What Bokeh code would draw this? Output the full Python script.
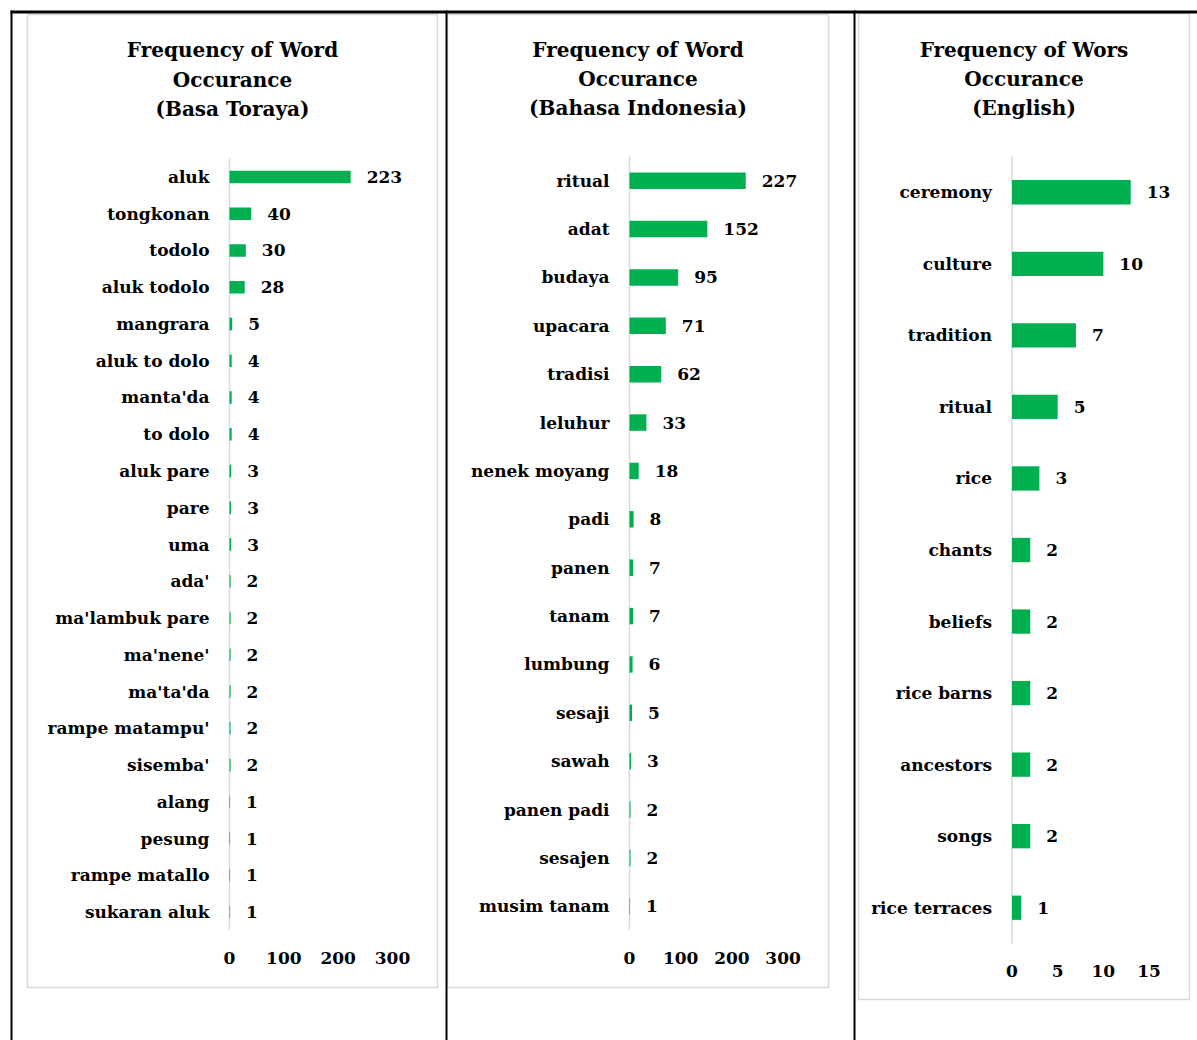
from bokeh.plotting import figure
from bokeh.models import ColumnDataSource, Range1d
from bokeh.core.properties import value
from bokeh.embed import file_html
from bokeh.resources import INLINE

# ---------------- data ----------------
toraya_words = ["aluk", "tongkonan", "todolo", "aluk todolo", "mangrara", "aluk to dolo",
                "manta'da", "to dolo", "aluk pare", "pare", "uma", "ada'", "ma'lambuk pare",
                "ma'nene'", "ma'ta'da", "rampe matampu'", "sisemba'", "alang", "pesung",
                "rampe matallo", "sukaran aluk"]
toraya_counts = [223, 40, 30, 28, 5, 4, 4, 4, 3, 3, 3, 2, 2, 2, 2, 2, 2, 1, 1, 1, 1]

indo_words = ["ritual", "adat", "budaya", "upacara", "tradisi", "leluhur", "nenek moyang",
              "padi", "panen", "tanam", "lumbung", "sesaji", "sawah", "panen padi",
              "sesajen", "musim tanam"]
indo_counts = [227, 152, 95, 71, 62, 33, 18, 8, 7, 7, 6, 5, 3, 2, 2, 1]

eng_words = ["ceremony", "culture", "tradition", "ritual", "rice", "chants", "beliefs",
             "rice barns", "ancestors", "songs", "rice terraces"]
eng_counts = [13, 10, 7, 5, 3, 2, 2, 2, 2, 2, 1]

toraya_ticks = [0, 100, 200, 300]
indo_ticks = [0, 100, 200, 300]
eng_ticks = [0, 5, 10, 15]

toraya_title = ["Frequency of Word", "Occurance", "(Basa Toraya)"]
indo_title = ["Frequency of Word", "Occurance", "(Bahasa Indonesia)"]
eng_title = ["Frequency of Wors", "Occurance", "(English)"]

# ---------------- style ----------------
W, H = 1197, 1040
FONT = value("DejaVu Serif")
GREEN = "#00B050"
LIGHT = "#D9D9D9"
INK = "#000000"

p = figure(width=W, height=H, x_range=Range1d(0, W), y_range=Range1d(H, 0),
           output_backend="svg", toolbar_location=None, title_location=None,
           x_axis_location=None, y_axis_location=None,
           min_border_left=0, min_border_right=0, min_border_top=0, min_border_bottom=0)
p.outline_line_color = None
p.grid.visible = False
p.background_fill_color = "white"
p.border_fill_color = "white"


def panel(name, words, counts, ticks, title_lines, box, x0px, xmaxpx, ytop, ybot, title_ys):
    n = len(words)
    # panel frame box
    l, r, t, b = box
    p.quad(left=[l], right=[r], top=[t], bottom=[b], fill_color="white",
           line_color=LIGHT, line_width=1.5)
    # title
    cx = (l + r) / 2
    p.text(x=[cx] * len(title_lines), y=title_ys, text=title_lines,
           text_align="center", text_baseline="middle", text_font=FONT,
           text_font_style="bold", text_font_size=value("20px"), text_color=INK)

    # scales for this panel
    ppu = (xmaxpx - x0px) / ticks[-1]
    p.extra_x_ranges[name] = Range1d(-x0px / ppu, (W - x0px) / ppu)
    step = (ybot - ytop) / n
    py0 = ytop + 0.5 * step
    p.extra_y_ranges[name] = Range1d((H - py0) / step, (0 - py0) / step)
    kw = dict(x_range_name=name, y_range_name=name)

    src = ColumnDataSource(dict(word=words, count=counts, row=list(range(n)),
                                label=[str(c) for c in counts]))
    # category axis line
    p.segment(x0=[0], x1=[0], y0=[-0.5], y1=[n - 0.5], line_color=LIGHT,
              line_width=1.5, **kw)
    # bars
    p.hbar(y="row", left=0, right="count", height=0.34, source=src,
           fill_color=GREEN, line_color=None, **kw)
    # value labels
    p.text(x="count", y="row", text="label", source=src, x_offset=16,
           text_align="left", text_baseline="middle", text_font=FONT,
           text_font_style="bold", text_font_size=value("17px"), text_color=INK, **kw)
    # category labels
    p.text(x=0, y="row", text="word", source=src, x_offset=-20,
           text_align="right", text_baseline="middle", text_font=FONT,
           text_font_style="bold", text_font_size=value("17px"), text_color=INK, **kw)
    # tick labels
    p.text(x=ticks, y=[n - 0.5] * len(ticks), text=[str(t) for t in ticks],
           y_offset=27, text_align="center", text_baseline="middle", text_font=FONT,
           text_font_style="bold", text_font_size=value("17px"), text_color=INK, **kw)


panel("toraya", toraya_words, toraya_counts, toraya_ticks, toraya_title,
      (27, 437, 14, 987), 229, 392, 158, 930, [49, 79, 108])
panel("indo", indo_words, indo_counts, indo_ticks, indo_title,
      (447, 828, 14, 987), 629, 782.6, 156, 930, [49, 78, 107])
panel("eng", eng_words, eng_counts, eng_ticks, eng_title,
      (858, 1189, 13, 999), 1011.5, 1148.5, 156, 943, [49, 78, 107])

# black table rules (page layout, pixel coordinates), drawn on top
rules = dict(left=[10, 10, 445, 853], right=[W, 12, 447, 855],
             top=[10, 10, 10, 10], bottom=[13, H, H, H])
p.quad(source=ColumnDataSource(rules), left="left", right="right", top="top",
       bottom="bottom", fill_color=INK, line_color=None)

open("out.html", "w").write(file_html(p, INLINE))
